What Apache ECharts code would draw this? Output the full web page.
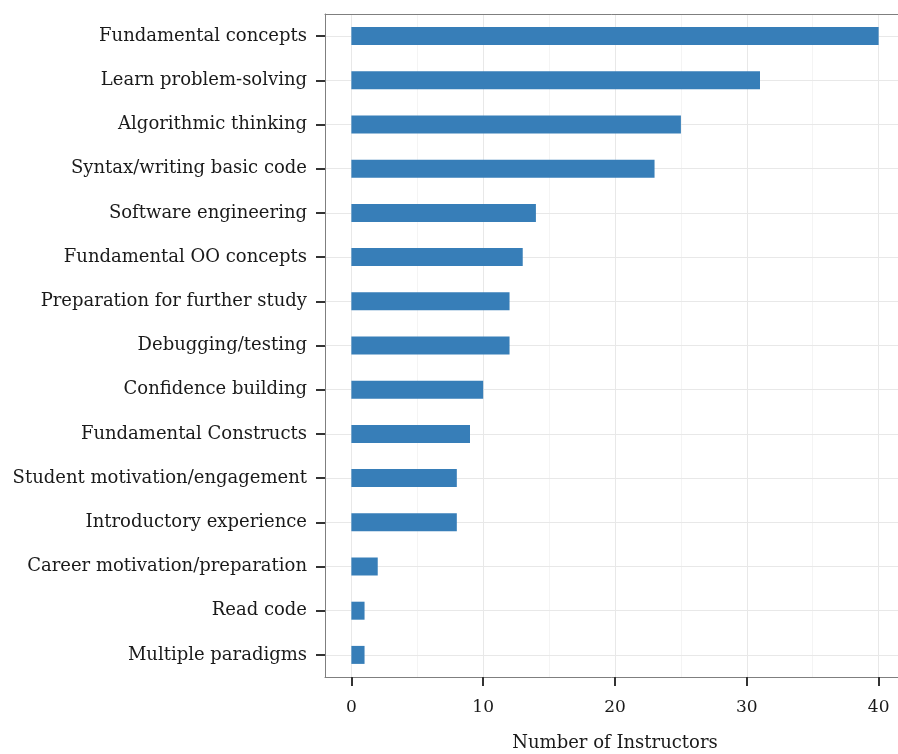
<!DOCTYPE html>
<html><head><meta charset="utf-8">
<script src="https://cdn.jsdelivr.net/npm/echarts@6/dist/echarts.min.js"></script>
<style>html,body{margin:0;padding:0;background:#fff}#c{width:898px;height:754px}</style>
</head><body><div id="c"></div>
<script>
const categories = ["Fundamental concepts","Learn problem-solving","Algorithmic thinking","Syntax/writing basic code","Software engineering","Fundamental OO concepts","Preparation for further study","Debugging/testing","Confidence building","Fundamental Constructs","Student motivation/engagement","Introductory experience","Career motivation/preparation","Read code","Multiple paradigms"];
const instructors = [40,31,25,23,14,13,12,12,10,9,8,8,2,1,1];
const xTicks = [0,10,20,30,40];
const xMinorTicks = [5,15,25,35];
const FONT = "DejaVu Serif";

const chart = echarts.init(document.getElementById('c'), null, {renderer:'canvas'});
const gridLineData = []
  .concat(xMinorTicks.map(v => ({xAxis: v, lineStyle:{color:'#f4f4f4', width:1, type:'solid'}})))
  .concat(xTicks.map(v => ({xAxis: v, lineStyle:{color:'#e8e8e8', width:1, type:'solid'}})))
  .concat(categories.map(c => ({yAxis: c, lineStyle:{color:'#e8e8e8', width:1, type:'solid'}})));
chart.setOption({
  animation:false,
  backgroundColor:'#fff',
  grid:{left:325, width:580, top:14, height:663, containLabel:false, outerBoundsMode:'none'},
  xAxis:[{
    type:'value', min:-2, max:42, position:'bottom',
    name:'Number of Instructors', nameLocation:'middle', nameGap:57,
    nameTextStyle:{fontFamily:FONT, fontSize:18, color:'#1a1a1a'},
    axisLine:{show:true, onZero:false, lineStyle:{color:'#7f7f7f', width:1}},
    axisTick:{show:true, customValues:xTicks, length:9, lineStyle:{color:'#333', width:2}},
    axisLabel:{customValues:xTicks, fontFamily:FONT, fontSize:17, color:'#1a1a1a', margin:22},
    splitLine:{show:false}
  },{
    type:'value', min:-2, max:42, position:'top',
    axisLine:{show:true, onZero:false, lineStyle:{color:'#7f7f7f', width:1}},
    axisTick:{show:false}, axisLabel:{show:false}, splitLine:{show:false}
  }],
  yAxis:{
    type:'category', data:categories, inverse:true,
    axisLine:{show:true, onZero:false, lineStyle:{color:'#7f7f7f', width:1}},
    axisTick:{show:true, alignWithLabel:true, length:9, lineStyle:{color:'#333', width:2}},
    axisLabel:{fontFamily:FONT, fontSize:18, color:'#1a1a1a', margin:18},
    splitLine:{show:false}
  },
  series:[{
    type:'scatter', data:[], z:1, silent:true,
    markLine:{silent:true, z:0, symbol:'none', label:{show:false}, animation:false, data:gridLineData}
  },{
    type:'bar', data:instructors, barWidth:18, z:3,
    itemStyle:{color:'#377eb8'}
  }]
});
</script></body></html>
